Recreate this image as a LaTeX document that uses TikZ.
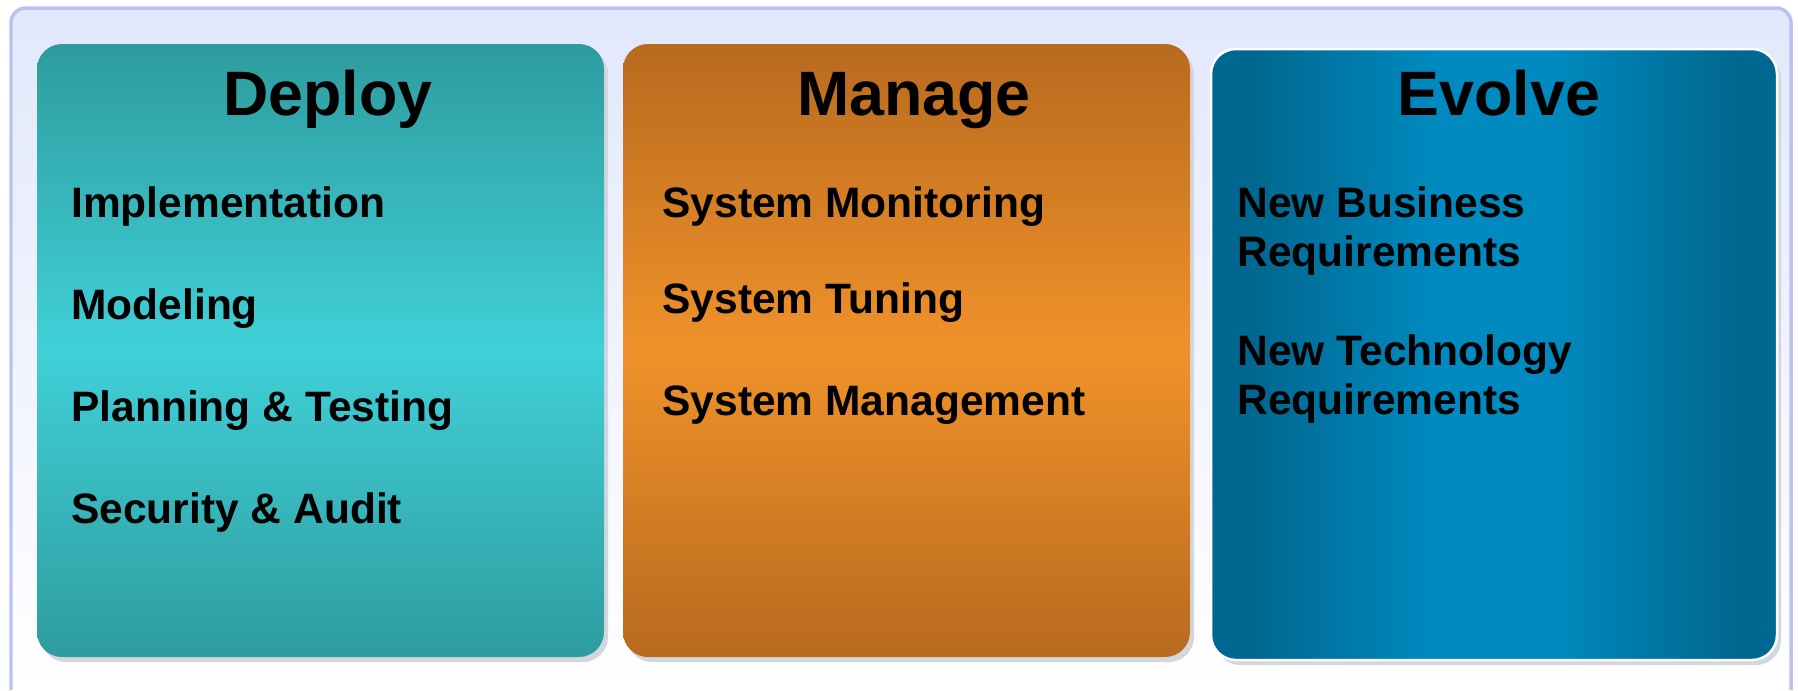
\documentclass[tikz,border=0pt]{standalone}
\usepackage{xcolor}
\usepackage{fontspec}
\setmainfont{Liberation Sans}
\usepackage{tikz}
\usetikzlibrary{backgrounds}

\definecolor{tealEdge}{RGB}{46,156,158}
\definecolor{tealMid}{RGB}{64,208,216}
\definecolor{orangeEdge}{RGB}{184,106,30}
\definecolor{orangeMid}{RGB}{240,146,42}
\definecolor{blueEdge}{RGB}{0,104,144}
\definecolor{blueMid}{RGB}{0,138,192}
\definecolor{frameTop}{RGB}{226,232,252}
\definecolor{frameLine}{RGB}{188,194,240}
\definecolor{shadowGray}{RGB}{212,214,222}

\pgfdeclarehorizontalshading{evolveShade}{100bp}{color(0bp)=(blueEdge); color(29bp)=(blueEdge); color(45bp)=(blueMid); color(55bp)=(blueMid); color(71bp)=(blueEdge); color(100bp)=(blueEdge)}

\tikzset{
  headtext/.style={anchor=base, inner sep=0pt, font=\fontsize{35.7}{43}\selectfont\bfseries},
  itemtext/.style={anchor=base west, align=left, inner sep=0pt, font=\fontsize{24.2}{27.8}\selectfont\bfseries},
  panel/.style={rounded corners=0.5cm},
}

\begin{document}
\begin{tikzpicture}[x=0.02cm,y=-0.02cm]
        \newcommand\panelShadow[4]{\fill[shadowGray,rounded corners=0.5cm] (#1+4,#2+5) rectangle (#3+4,#4+5)}
        \useasboundingbox (0,0) rectangle (1798,690);
        % frame
        \fill[white] (0,0) rectangle (1798,690);
        \shade[top color=frameTop,bottom color=white,rounded corners=0.3cm] (10,7) rectangle (1792,690);
        \draw[frameLine,line width=0.07cm,rounded corners=0.3cm] (11,690) -- (11,8) -- (1791,8) -- (1791,690);
        % panels
        \panelShadow{37}{44}{604}{657};
        \panelShadow{623}{44}{1190}{657};
        \panelShadow{1211}{49}{1777}{660};
        \shade[panel,top color=tealEdge,bottom color=tealEdge,middle color=tealMid] (37,44) rectangle (604,657);
        \shade[panel,top color=orangeEdge,bottom color=orangeEdge,middle color=orangeMid] (623,44) rectangle (1190,657);
        \shade[panel,shading=evolveShade] (1211,49) rectangle (1777,660);
        \draw[panel,white,line width=0.05cm] (1211,49) rectangle (1777,660);
        % titles
        \node[headtext] (deploy) at (328,115) {Deploy};
        \node[headtext] (manage) at (914,115) {Manage};
        \node[headtext] (evolve) at (1499,115) {Evolve};
        % deploy items
        \node[itemtext] (impl) at (71,217) {Implementation};
        \node[itemtext] (model) at (71,319) {Modeling};
        \node[itemtext] (plan) at (71,421) {Planning \& Testing};
        \node[itemtext] (secur) at (71,523) {Security \& Audit};
        % manage items
        \node[itemtext] (monitor) at (662,217) {System Monitoring};
        \node[itemtext] (tuning) at (662,313) {System Tuning};
        \node[itemtext] (sysmgmt) at (662,415) {System Management};
        % evolve items (base = last line)
        \node[itemtext] (busreq) at (1237,266) {New Business\\Requirements};
        \node[itemtext] (techreq) at (1237,414) {New Technology\\Requirements};
\end{tikzpicture}
\end{document}
